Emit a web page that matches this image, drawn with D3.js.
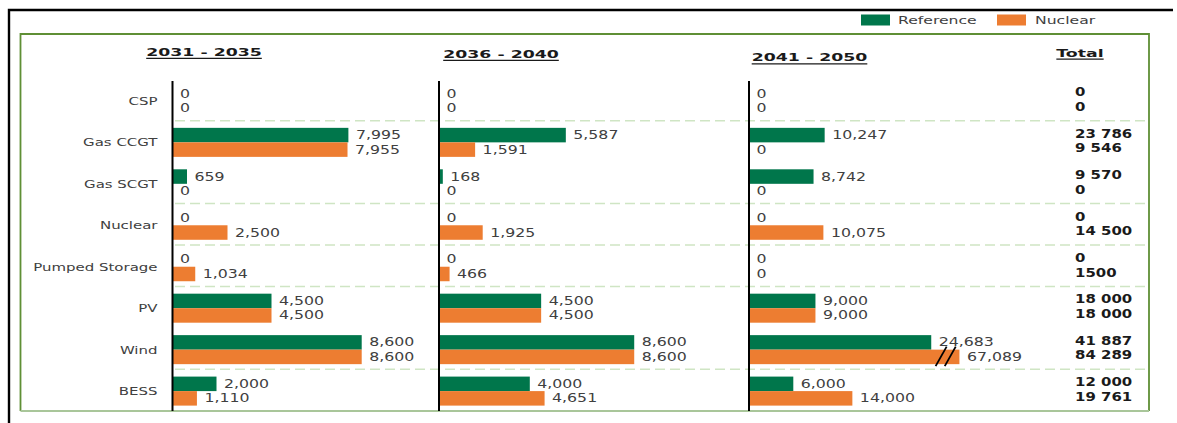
<!DOCTYPE html>
<html>
<head>
<meta charset="utf-8">
<script src="https://cdn.jsdelivr.net/npm/d3@7"></script>
<style>
  html, body { margin: 0; padding: 0; background: #ffffff; }
  svg { display: block; }
  text { font-family: "DejaVu Sans", sans-serif; }
</style>
</head>
<body>
<svg id="chart" width="1177" height="423"></svg>
<script>
// ---------------- DATA ----------------
const categories = ["CSP", "Gas CCGT", "Gas SCGT", "Nuclear", "Pumped Storage", "PV", "Wind", "BESS"];
const seriesNames = ["Reference", "Nuclear"];
const periods = ["2031 - 2035", "2036 - 2040", "2041 - 2050"];

const reference2031 = [0, 7995, 659, 0, 0, 4500, 8600, 2000];
const nuclear2031   = [0, 7955, 0, 2500, 1034, 4500, 8600, 1110];
const reference2036 = [0, 5587, 168, 0, 0, 4500, 8600, 4000];
const nuclear2036   = [0, 1591, 0, 1925, 466, 4500, 8600, 4651];
const reference2041 = [0, 10247, 8742, 0, 0, 9000, 24683, 6000];
const nuclear2041   = [0, 0, 0, 10075, 0, 9000, 67089, 14000];

const totalTitle = "Total";
const totalReference = ["0", "23 786", "9 570", "0", "0", "18 000", "41 887", "12 000"];
const totalNuclear   = ["0", "9 546", "0", "14 500", "1500", "18 000", "84 289", "19 761"];

// categories followed by a dashed separator
const separatorsAfter = ["CSP", "Gas SCGT", "Nuclear", "Pumped Storage", "Wind"];

// axis maxima per panel and the value at which a bar is shown broken
const panelMax = [10000, 10000, 30000];
const panelBreak = [null, null, 28500];

// ---------------- LAYOUT / STYLE ----------------
const colors = { Reference: "#00764b", Nuclear: "#ed7d31" };
const panelLayout = [
  { x0: 172.5, width: 220, headX: 204, headY: 55.5 },
  { x0: 439,   width: 227, headX: 501, headY: 57.5 },
  { x0: 749,   width: 221.5, headX: 809.5, headY: 61 }
];

const svg = d3.select("#chart");

// helper: horizontally stretched text
function sText(parent, x, y, str, o) {
  const g = parent.append("g").attr("transform", `translate(${x},${y}) scale(${o.sx},1)`);
  const t = g.append("text")
    .attr("text-anchor", o.anchor || "start")
    .attr("font-size", o.size)
    .attr("font-weight", o.weight || "normal")
    .attr("fill", o.fill || "#404040")
    .text(str);
  if (o.dy) t.attr("dy", o.dy);
  return { g, t };
}

// outer black frame (top + left)
svg.append("path")
  .attr("d", "M9,440 L9,10 L1173,10")
  .attr("fill", "none").attr("stroke", "#000").attr("stroke-width", 2.4);

// green frame
svg.append("path")
  .attr("d", "M1149,411 L1149,34 L20.5,34 L20.5,411")
  .attr("fill", "none").attr("stroke", "#5f8f35").attr("stroke-width", 1.8);
svg.append("line")
  .attr("x1", 20.5).attr("x2", 1149).attr("y1", 411).attr("y2", 411)
  .attr("stroke", "#a9c69a").attr("stroke-width", 2);

// legend
const legend = [
  { name: seriesNames[0], sw: 861, tx: 898 },
  { name: seriesNames[1], sw: 997, tx: 1035 }
];
legend.forEach(l => {
  svg.append("rect").attr("x", l.sw).attr("y", 14.5).attr("width", 29).attr("height", 11)
    .attr("fill", colors[l.name]);
  sText(svg, l.tx, 20, l.name, { size: 10.5, sx: 1.49, fill: "#404040", dy: "0.35em" });
});

// vertical category scale
const y = d3.scaleBand().domain(categories).range([81, 411]).paddingInner(0.3).paddingOuter(0.13);
const ySub = d3.scaleBand().domain(seriesNames).range([0, y.bandwidth()]);
const fmt = d3.format(",");

// dashed separators
separatorsAfter.forEach(c => {
  const yy = y(c) + y.bandwidth() + y.step() * y.paddingInner() / 2 - 1;
  svg.append("line")
    .attr("x1", 175).attr("x2", 1150).attr("y1", yy).attr("y2", yy)
    .attr("stroke", "#cfe5c4").attr("stroke-width", 1.5).attr("stroke-dasharray", "10,5");
});

// category labels
categories.forEach(c => {
  sText(svg, 157.5, y(c) + y.bandwidth() / 2, c, { size: 11, sx: 1.36, anchor: "end", fill: "#404040", dy: "0.35em" });
});

// panels
const panelData = [
  { Reference: reference2031, Nuclear: nuclear2031 },
  { Reference: reference2036, Nuclear: nuclear2036 },
  { Reference: reference2041, Nuclear: nuclear2041 }
];

panelData.forEach((pd, pi) => {
  const L = panelLayout[pi];
  const x = d3.scaleLinear().domain([0, panelMax[pi]]).range([L.x0, L.x0 + L.width]);
  const cap = panelBreak[pi];
  const g = svg.append("g");

  // header
  const h = sText(g, L.headX, L.headY, periods[pi], { size: 10.5, sx: 1.65, weight: "bold", anchor: "middle", fill: "#1a1a1a" });
  const w = h.t.node().getComputedTextLength();
  h.g.append("line").attr("x1", -w / 2).attr("x2", w / 2).attr("y1", 2.8).attr("y2", 2.8)
    .attr("stroke", "#1a1a1a").attr("stroke-width", 1.2);

  seriesNames.forEach(s => {
    pd[s].forEach((v, i) => {
      const c = categories[i];
      const shown = (cap !== null && v > cap) ? cap : v;
      const by = y(c) + ySub(s);
      const bh = ySub.bandwidth();
      if (v > 0) {
        g.append("rect")
          .attr("x", x(0)).attr("y", by)
          .attr("width", x(shown) - x(0)).attr("height", bh)
          .attr("fill", colors[s]);
      }
      if (cap !== null && v > cap) {
        const xe = x(shown);
        [18.3, 9.2].forEach(off => {
          g.append("line")
            .attr("x1", xe - off - 5.5).attr("y1", by + bh + 2)
            .attr("x2", xe - off + 5.5).attr("y2", by - 3)
            .attr("stroke", "#000").attr("stroke-width", 1.8);
        });
      }
      sText(g, x(shown) + 7.5, by + bh / 2, fmt(v), { size: 11.5, sx: 1.37, fill: "#404040", dy: "0.35em" });
    });
  });

  // axis line
  g.append("line")
    .attr("x1", x(0)).attr("x2", x(0)).attr("y1", y.range()[0]).attr("y2", y.range()[1])
    .attr("stroke", "#000").attr("stroke-width", 2);
});

// totals column
const th = sText(svg, 1080, 56.5, totalTitle, { size: 10.5, sx: 1.65, weight: "bold", anchor: "middle", fill: "#1a1a1a" });
const tw = th.t.node().getComputedTextLength();
th.g.append("line").attr("x1", -tw / 2).attr("x2", tw / 2).attr("y1", 2.6).attr("y2", 2.6)
  .attr("stroke", "#1a1a1a").attr("stroke-width", 1.2);

const totals = { Reference: totalReference, Nuclear: totalNuclear };
seriesNames.forEach(s => {
  totals[s].forEach((t, i) => {
    const c = categories[i];
    const cy = y(c) + ySub(s) + ySub.bandwidth() / 2 - 1.5;
    sText(svg, 1075, cy, t, { size: 11.5, sx: 1.3, weight: "bold", fill: "#1a1a1a", dy: "0.35em" });
  });
});
</script>
</body>
</html>
